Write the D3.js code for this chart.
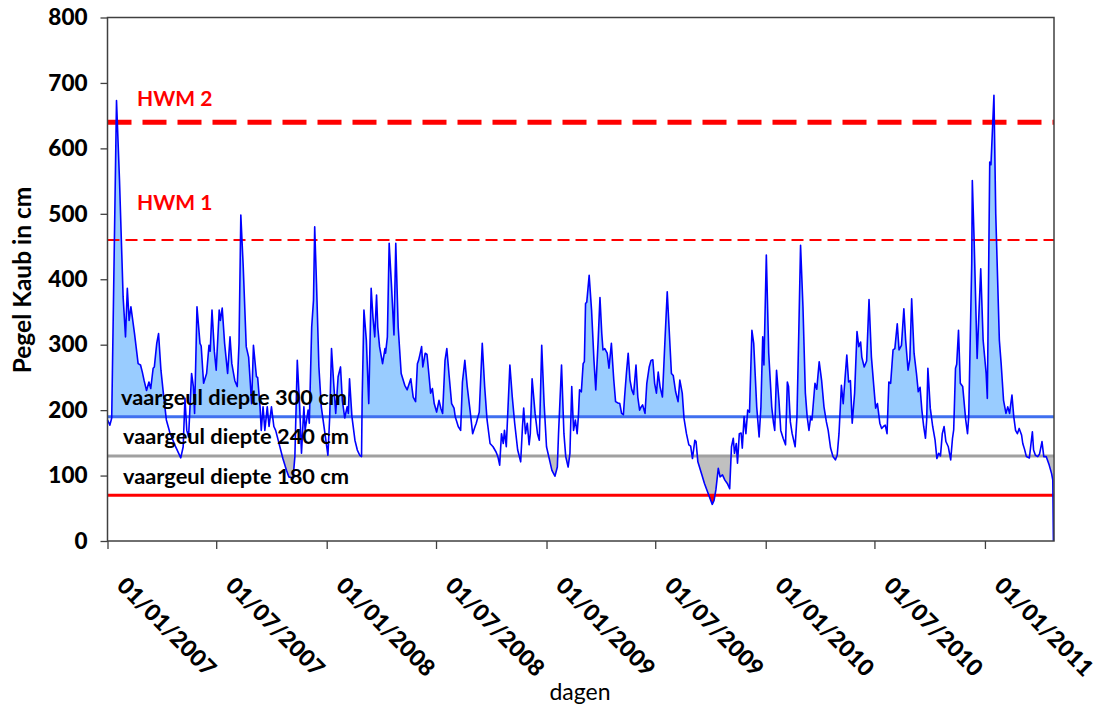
<!DOCTYPE html>
<html>
<head>
<meta charset="utf-8">
<script src="https://cdn.jsdelivr.net/npm/d3@7"></script>
<style>
  html, body { margin: 0; padding: 0; background: #ffffff; }
  svg { display: block; font-family: Lato, "Open Sans", sans-serif; }
</style>
</head>
<body>
<svg id="chart" width="1100" height="713"></svg>
<script>
// Water level at gauge Kaub (cm), day offsets counted from 01/01/2007
const days = [
  0, 4, 7, 15, 20, 26, 30, 33, 36, 39, 45, 51, 55, 58, 61, 65, 69, 72, 76, 78,
  82, 85, 89, 93, 98, 104, 112, 122, 126, 129, 132, 135, 140, 143, 145, 149, 154, 156, 160, 165,
  169, 171, 174, 178, 181, 186, 188, 191, 195, 200, 204, 207, 212, 216, 219, 222, 226, 231, 235, 240,
  243, 248, 250, 254, 256, 259, 262, 266, 269, 273, 277, 280, 287, 292, 298, 302, 309, 312, 316, 320,
  323, 327, 329, 334, 336, 340, 343, 345, 348, 352, 356, 362, 367, 370, 373, 377, 380, 384, 388, 391,
  395, 399, 401, 403, 407, 412, 416, 420, 423, 424, 427, 431, 435, 439, 442, 445, 448, 450, 453, 458,
  462, 463, 466, 469, 473, 477, 480, 484, 489, 495, 499, 505, 509, 513, 516, 518, 520, 523, 525, 529,
  532, 535, 538, 541, 544, 548, 552, 555, 558, 562, 565, 569, 573, 577, 579, 584, 588, 591, 595, 599,
  603, 608, 612, 614, 619, 624, 628, 632, 637, 642, 647, 650, 653, 656, 659, 661, 664, 670, 674, 678,
  683, 688, 691, 693, 696, 699, 702, 704, 707, 712, 716, 719, 720, 723, 727, 731, 736, 740, 745, 749,
  751, 756, 760, 763, 767, 770, 773, 776, 779, 782, 784, 786, 789, 792, 794, 796, 798, 802, 806, 810,
  813, 817, 820, 823, 825, 828, 832, 835, 839, 843, 846, 850, 853, 856, 859, 861, 864, 867, 870, 873,
  876, 880, 883, 886, 888, 891, 895, 898, 902, 905, 908, 911, 914, 917, 920, 924, 928, 932, 935, 939,
  942, 946, 950, 953, 957, 960, 964, 968, 971, 974, 978, 980, 983, 989, 994, 1000, 1007, 1010, 1013, 1017,
  1020, 1024, 1028, 1032, 1036, 1039, 1042, 1044, 1047, 1049, 1052, 1055, 1057, 1060, 1063, 1066, 1069, 1073, 1076, 1081,
  1085, 1088, 1091, 1093, 1097, 1101, 1106, 1109, 1111, 1114, 1118, 1121, 1125, 1129, 1132, 1134, 1137, 1140, 1145, 1148,
  1151, 1154, 1158, 1162, 1165, 1168, 1171, 1173, 1178, 1181, 1185, 1189, 1193, 1197, 1200, 1204, 1208, 1212, 1215, 1218,
  1222, 1225, 1228, 1231, 1234, 1237, 1240, 1244, 1248, 1251, 1254, 1256, 1260, 1264, 1268, 1272, 1276, 1279, 1282, 1286,
  1289, 1292, 1295, 1298, 1301, 1304, 1308, 1311, 1315, 1318, 1322, 1326, 1329, 1333, 1336, 1339, 1343, 1347, 1350, 1353,
  1356, 1359, 1362, 1364, 1366, 1370, 1374, 1378, 1381, 1384, 1387, 1390, 1393, 1396, 1400, 1404, 1407, 1409, 1412, 1414,
  1417, 1420, 1424, 1429, 1432, 1434, 1439, 1440, 1443, 1448, 1454, 1458, 1463, 1465, 1469, 1471, 1476, 1479, 1485, 1488,
  1492, 1496, 1499, 1502, 1506, 1509, 1512, 1515, 1518, 1522, 1524, 1527, 1530, 1535, 1540, 1542, 1545, 1549, 1552, 1556,
  1559, 1563, 1568, 1572, 1574, 1575
];
const levels = [
  185, 177, 188, 673, 551, 373, 312, 386, 337, 358, 317, 271, 269, 258, 245, 230, 243, 233, 264, 266,
  302, 317, 261, 226, 185, 165, 147, 127, 144, 218, 169, 159, 256, 236, 195, 358, 302, 298, 241, 256,
  299, 290, 353, 289, 261, 353, 337, 356, 302, 256, 312, 271, 245, 236, 302, 498, 419, 297, 281, 210,
  299, 251, 250, 205, 169, 205, 169, 205, 175, 205, 175, 169, 144, 126, 108, 98, 96, 129, 276, 205,
  134, 205, 169, 200, 180, 327, 368, 480, 394, 266, 205, 165, 131, 190, 294, 236, 195, 251, 266, 215,
  188, 205, 195, 248, 190, 154, 139, 131, 129, 215, 353, 307, 210, 386, 342, 312, 376, 327, 297, 271,
  294, 287, 312, 455, 388, 315, 455, 327, 256, 238, 231, 248, 220, 213, 271, 276, 284, 297, 266, 287,
  285, 256, 226, 233, 210, 197, 215, 203, 195, 276, 294, 251, 210, 203, 190, 175, 169, 243, 276, 236,
  205, 164, 175, 180, 197, 302, 236, 185, 149, 144, 136, 129, 116, 164, 149, 169, 144, 269, 220, 180,
  139, 121, 175, 203, 164, 180, 147, 164, 248, 195, 164, 154, 190, 299, 210, 144, 124, 108, 99, 113,
  164, 269, 164, 129, 113, 134, 236, 169, 185, 164, 190, 231, 228, 271, 274, 363, 365, 406, 353, 276,
  231, 307, 372, 317, 292, 294, 287, 264, 302, 246, 213, 211, 210, 195, 193, 220, 256, 287, 246, 231,
  224, 269, 220, 200, 204, 208, 195, 241, 266, 276, 277, 241, 226, 258, 236, 220, 302, 381, 327, 256,
  253, 228, 213, 246, 226, 187, 164, 147, 145, 126, 154, 152, 121, 103, 88, 73, 56, 62, 78, 111,
  98, 101, 93, 88, 80, 144, 157, 134, 149, 119, 164, 165, 142, 190, 164, 200, 197, 322, 302, 205,
  159, 205, 312, 269, 437, 287, 205, 180, 169, 261, 215, 169, 157, 147, 243, 236, 182, 164, 144, 190,
  317, 452, 358, 226, 190, 169, 190, 185, 241, 232, 274, 246, 205, 182, 169, 142, 129, 124, 131, 164,
  238, 210, 248, 284, 243, 245, 180, 226, 320, 297, 304, 281, 266, 275, 369, 281, 236, 203, 210, 180,
  172, 175, 177, 164, 243, 241, 292, 294, 332, 292, 299, 355, 307, 261, 278, 370, 287, 256, 228, 235,
  200, 175, 157, 185, 264, 203, 175, 154, 126, 134, 130, 164, 175, 152, 144, 124, 157, 170, 264, 270,
  322, 241, 236, 185, 164, 190, 424, 551, 460, 279, 416, 307, 256, 218, 579, 575, 681, 500, 307, 271,
  215, 195, 205, 195, 223, 190, 169, 164, 172, 162, 149, 140, 129, 127, 167, 139, 131, 129, 133, 152,
  129, 129, 116, 103, 93, 0
];

// Reference levels (cm)
const hwm2 = 640;
const hwm1 = 460;
const depth300 = 190;
const depth240 = 130;
const depth180 = 70;
const hwmLabels = ["HWM 2", "HWM 1"];
const depthLabels = ["vaargeul diepte 300 cm", "vaargeul diepte 240 cm", "vaargeul diepte 180 cm"];
const yTicks = [0, 100, 200, 300, 400, 500, 600, 700, 800];
const xStart = "2007-01-01";
const xEnd = "2011-04-26";
const yTitle = "Pegel Kaub in cm";
const xTitle = "dagen";

const svg = d3.select("#chart");
const plotL = 107.5, plotR = 1054, plotT = 17.5, plotB = 541;

const t0 = new Date(xStart + "T00:00:00Z");
const x = d3.scaleUtc().domain([t0, new Date(xEnd + "T00:00:00Z")]).range([plotL, plotR]);
const y = d3.scaleLinear().domain([0, 800]).range([plotB, plotT]);

const data = days.map((d, i) => ({ date: d3.utcDay.offset(t0, d), v: levels[i] }));

const defs = svg.append("defs");
function clipRect(id, y0, y1) {
  defs.append("clipPath").attr("id", id).append("rect")
    .attr("x", plotL).attr("width", plotR - plotL)
    .attr("y", y0).attr("height", y1 - y0);
}
clipRect("above300", plotT, y(depth300));
clipRect("below240", y(depth240), plotB);
clipRect("below180", y(depth180), plotB);

function bandArea(base) {
  return d3.area().x(d => x(d.date)).y0(y(base)).y1(d => y(d.v));
}

// Shaded parts of the hydrograph relative to the navigation depths
svg.append("path").datum(data).attr("d", bandArea(depth300))
  .attr("fill", "#99ccff").attr("clip-path", "url(#above300)");
svg.append("path").datum(data).attr("d", bandArea(depth240))
  .attr("fill", "#c0c0c0").attr("clip-path", "url(#below240)");
svg.append("path").datum(data).attr("d", bandArea(depth180))
  .attr("fill", "#ff0000").attr("clip-path", "url(#below180)");

// Horizontal reference lines
function hline(v, color, width, dash) {
  const l = svg.append("line")
    .attr("x1", plotL).attr("x2", plotR)
    .attr("y1", y(v)).attr("y2", y(v))
    .attr("stroke", color).attr("stroke-width", width);
  if (dash) l.attr("stroke-dasharray", dash);
  return l;
}
hline(depth300, "#3f6ff0", 3);
hline(depth240, "#a0a0a0", 3);
hline(depth180, "#ff0000", 3);
hline(hwm2, "#ff0000", 5, "24,11");
hline(hwm1, "#ff0000", 2.2, "12,6");

// Hydrograph
svg.append("path").datum(data)
  .attr("d", d3.line().x(d => x(d.date)).y(d => y(d.v)))
  .attr("fill", "none").attr("stroke", "#0000ff").attr("stroke-width", 1.6)
  .attr("stroke-linejoin", "round");

// Plot frame
svg.append("rect").attr("x", plotL).attr("y", plotT)
  .attr("width", plotR - plotL).attr("height", plotB - plotT)
  .attr("fill", "none").attr("stroke", "#404040").attr("stroke-width", 1.5);

// Y axis
const yAxis = svg.append("g").attr("transform", `translate(${plotL},0)`)
  .call(d3.axisLeft(y).tickValues(yTicks).tickSize(7).tickPadding(13).tickFormat(d3.format("d")));
yAxis.select(".domain").remove();
yAxis.selectAll("line").attr("stroke", "#404040").attr("stroke-width", 1.3);
yAxis.selectAll("text").attr("font-family", "Lato").attr("font-weight", "900")
  .attr("font-size", 22.5).attr("fill", "#000");

// X axis
const xTicks = d3.utcMonth.every(6).range(t0, x.domain()[1]);
const xAxis = svg.append("g").attr("transform", `translate(0,${plotB})`)
  .call(d3.axisBottom(x).tickValues(xTicks).tickSize(8).tickFormat(""));
xAxis.select(".domain").remove();
xAxis.selectAll("line").attr("stroke", "#404040").attr("stroke-width", 1.3);
const fmt = d3.utcFormat("%d/%m/%Y");
svg.append("g").selectAll("text").data(xTicks).join("text")
  .attr("transform", d => `translate(${x(d) + 8},${plotB + 46}) rotate(45)`)
  .attr("font-family", "Lato").attr("font-weight", "900").attr("font-size", 23)
  .attr("fill", "#000").text(d => fmt(d));

// Annotations
const ann = svg.append("g").attr("font-family", "Lato").attr("font-weight", "bold");
ann.append("text").attr("x", 137).attr("y", y(hwm2) - 16).attr("fill", "#ff0000")
  .attr("font-size", 21).text(hwmLabels[0]);
ann.append("text").attr("x", 137).attr("y", y(hwm1) - 30).attr("fill", "#ff0000")
  .attr("font-size", 21).text(hwmLabels[1]);
ann.append("text").attr("x", 121).attr("y", y(depth300) - 12).attr("fill", "#000")
  .attr("font-size", 21.8).text(depthLabels[0]);
ann.append("text").attr("x", 123).attr("y", y(depth240) - 12).attr("fill", "#000")
  .attr("font-size", 21.8).text(depthLabels[1]);
ann.append("text").attr("x", 123).attr("y", y(depth180) - 11).attr("fill", "#000")
  .attr("font-size", 21.8).text(depthLabels[2]);

// Axis titles
svg.append("text").attr("transform", "translate(31,280) rotate(-90)")
  .attr("text-anchor", "middle").attr("font-family", "Lato").attr("font-weight", "bold")
  .attr("font-size", 24.5).attr("fill", "#000").text(yTitle);
svg.append("text").attr("x", 580).attr("y", 700).attr("text-anchor", "middle")
  .attr("font-family", "Lato").attr("font-size", 23).attr("fill", "#000").text(xTitle);
</script>
</body>
</html>
